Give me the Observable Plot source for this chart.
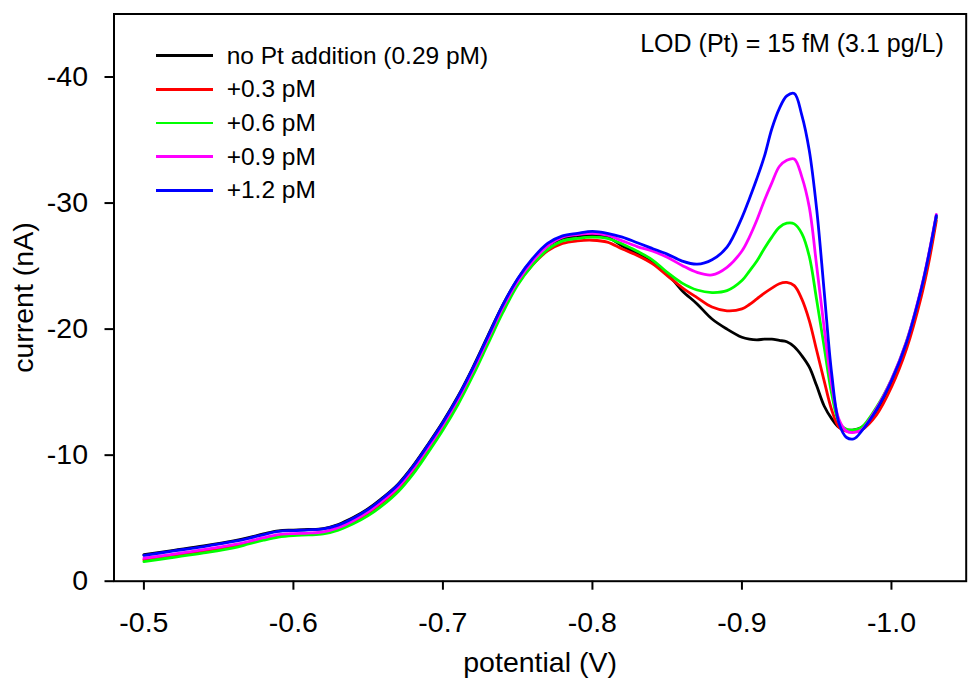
<!DOCTYPE html>
<html><head><meta charset="utf-8">
<script src="https://cdn.jsdelivr.net/npm/d3@7"></script>
<script src="https://cdn.jsdelivr.net/npm/@observablehq/plot@0.6"></script>
<style>
body{margin:0;background:#fff;}
#wrap{position:relative;width:968px;height:679px;overflow:hidden;font-family:"Liberation Sans",Arial,sans-serif;color:#000;}
#legend{position:absolute;left:155.7px;top:38.9px;}
.row{display:flex;align-items:center;height:33.65px;font-size:24.5px;white-space:nowrap;}
.sw{width:57.6px;height:2.8px;margin-right:13.4px;flex:none;}
</style></head><body><div id="wrap"><div id="legend"></div></div>
<script>
// Potential (V)
const potential = [-0.50,-0.52,-0.54,-0.56,-0.57,-0.58,-0.59,-0.60,-0.61,-0.62,-0.63,-0.64,-0.65,-0.66,-0.67,-0.68,-0.69,-0.70,-0.71,-0.72,-0.73,-0.74,-0.75,-0.76,-0.77,-0.78,-0.79,-0.80,-0.81,-0.82,-0.83,-0.84,-0.85,-0.86,-0.87,-0.88,-0.89,-0.90,-0.905,-0.91,-0.915,-0.92,-0.925,-0.93,-0.935,-0.94,-0.945,-0.95,-0.955,-0.96,-0.965,-0.97,-0.975,-0.98,-0.99,-1.00,-1.01,-1.02,-1.025,-1.03];
// Current (nA) per series
const noPt = [-2.1,-2.45,-2.8,-3.2,-3.45,-3.75,-4.0,-4.05,-4.1,-4.18,-4.5,-5.05,-5.75,-6.65,-7.7,-9.15,-10.85,-12.65,-14.65,-16.95,-19.45,-21.9,-23.95,-25.5,-26.6,-27.2,-27.4,-27.45,-27.3,-26.6,-26.0,-25.3,-24.4,-23.05,-22.0,-20.8,-20.0,-19.35,-19.2,-19.15,-19.2,-19.2,-19.1,-19.0,-18.6,-17.9,-17.0,-15.5,-13.9,-12.9,-12.2,-12.0,-12.0,-12.2,-13.5,-15.7,-18.7,-22.9,-25.6,-28.9];
const add03 = [-1.7,-2.05,-2.4,-2.8,-3.05,-3.35,-3.6,-3.7,-3.75,-3.85,-4.15,-4.7,-5.4,-6.3,-7.35,-8.8,-10.5,-12.3,-14.3,-16.6,-19.1,-21.6,-23.6,-25.1,-26.2,-26.8,-27.0,-27.05,-26.9,-26.35,-25.85,-25.2,-24.25,-23.3,-22.5,-21.75,-21.45,-21.6,-21.95,-22.4,-22.85,-23.25,-23.6,-23.7,-23.45,-22.4,-20.7,-18.3,-15.9,-13.6,-12.2,-11.9,-11.85,-12.0,-13.2,-15.4,-18.4,-22.6,-25.3,-28.6];
const add06 = [-1.56,-1.9,-2.25,-2.65,-2.95,-3.25,-3.5,-3.62,-3.67,-3.75,-4.05,-4.55,-5.2,-6.05,-7.1,-8.5,-10.2,-12.0,-14.0,-16.3,-18.8,-21.3,-23.5,-25.1,-26.3,-27.0,-27.2,-27.3,-27.2,-26.75,-26.17,-25.5,-24.5,-23.65,-23.1,-22.9,-23.05,-23.85,-24.6,-25.4,-26.4,-27.3,-28.07,-28.4,-28.35,-27.6,-25.8,-22.3,-18.6,-14.9,-12.6,-12.05,-12.0,-12.2,-13.8,-16.0,-19.0,-23.2,-25.9,-29.0];
const add09 = [-1.82,-2.15,-2.5,-2.9,-3.15,-3.45,-3.7,-3.78,-3.82,-3.92,-4.25,-4.8,-5.5,-6.4,-7.45,-8.9,-10.6,-12.4,-14.4,-16.7,-19.2,-21.7,-23.8,-25.4,-26.6,-27.3,-27.5,-27.6,-27.45,-27.0,-26.55,-26.2,-25.7,-25.05,-24.5,-24.3,-24.9,-26.2,-27.3,-28.65,-30.2,-31.6,-32.9,-33.4,-33.5,-32.1,-29.7,-25.0,-20.1,-15.6,-12.8,-11.9,-11.8,-12.0,-13.7,-16.0,-19.0,-23.3,-26.0,-29.1];
const add12 = [-2.05,-2.4,-2.75,-3.15,-3.4,-3.7,-3.95,-4.02,-4.07,-4.15,-4.45,-5.0,-5.7,-6.6,-7.65,-9.1,-10.8,-12.6,-14.6,-16.9,-19.4,-21.9,-24.0,-25.6,-26.8,-27.4,-27.6,-27.75,-27.6,-27.3,-26.85,-26.4,-25.95,-25.4,-25.15,-25.5,-26.5,-28.85,-30.35,-31.95,-33.7,-35.9,-37.5,-38.5,-38.7,-37.0,-34.2,-29.5,-23.0,-16.5,-12.5,-11.4,-11.3,-11.9,-13.6,-15.9,-18.9,-23.2,-25.9,-29.0];

const seriesNames = ["no Pt addition (0.29 pM)", "+0.3 pM", "+0.6 pM", "+0.9 pM", "+1.2 pM"];
const seriesColors = ["#000000", "#ff0000", "#00ff00", "#ff00ff", "#0000ff"];
const seriesValues = [noPt, add03, add06, add09, add12];

const xTicks = [-0.5, -0.6, -0.7, -0.8, -0.9, -1.0];
const yTicks = [0, -10, -20, -30, -40];
const xLabel = "potential (V)";
const yLabel = "current (nA)";
const lodText = "LOD (Pt) = 15 fM (3.1 pg/L)";

const rows = seriesNames.flatMap((name, s) =>
  potential.map((v, i) => ({series: name, potential: v, current: seriesValues[s][i]})));

const chart = Plot.plot({
  width: 968,
  height: 679,
  marginLeft: 113.5,
  marginRight: 2.3,
  marginTop: 13.5,
  marginBottom: 98.3,
  style: {fontFamily: '"Liberation Sans", Arial, sans-serif', color: "#000", background: "#fff", overflow: "visible"},
  x: {domain: [-0.48, -1.05]},
  y: {domain: [0, -45]},
  color: {domain: seriesNames, range: seriesColors},
  marks: [
    Plot.line(rows, {x: "potential", y: "current", z: "series", stroke: "series", strokeWidth: 2.8, curve: "catmull-rom"}),
    Plot.frame({stroke: "#000", strokeWidth: 2}),
    Plot.axisX(xTicks, {anchor: "bottom", tickSize: 9, tickPadding: 22, strokeWidth: 2, fontSize: 28.5,
      tickFormat: d => d.toFixed(1), label: xLabel, labelAnchor: "center", labelArrow: "none", labelOffset: 91}),
    Plot.axisY(yTicks, {anchor: "left", tickSize: 9, tickPadding: 17, strokeWidth: 2, fontSize: 28.5,
      tickFormat: d => String(d), label: yLabel, labelAnchor: "center", labelArrow: "none", labelOffset: 101}),
    Plot.text([lodText], {text: d => d, frameAnchor: "top-right", textAnchor: "end", lineAnchor: "top", dx: -22.4, dy: 19.8, fontSize: 25})
  ]
});
const wrap = document.getElementById("wrap");
wrap.insertBefore(chart, wrap.firstChild);

const legend = document.getElementById("legend");
seriesNames.forEach((name, i) => {
  const row = document.createElement("div");
  row.className = "row";
  const sw = document.createElement("span");
  sw.className = "sw";
  sw.style.background = seriesColors[i];
  const t = document.createElement("span");
  t.textContent = name;
  row.appendChild(sw);
  row.appendChild(t);
  legend.appendChild(row);
});
</script></body></html>
